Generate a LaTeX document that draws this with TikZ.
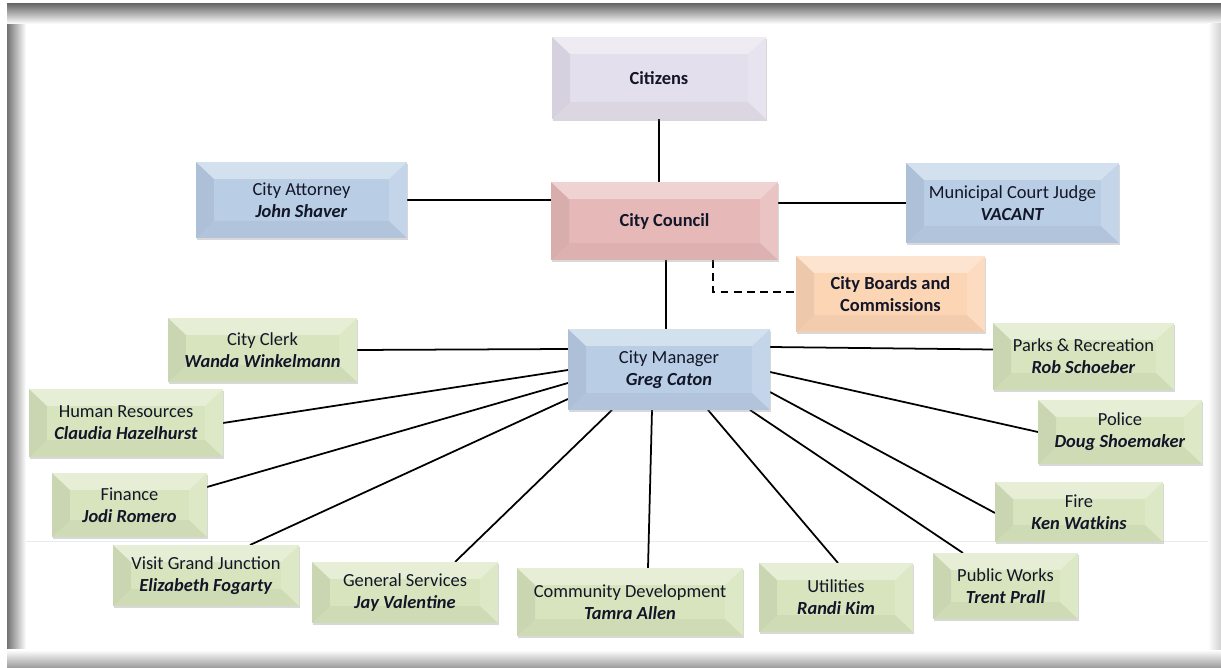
\documentclass[tikz,border=0pt]{standalone}
\usepackage{fontspec}
\setmainfont{Carlito}
\usetikzlibrary{calc,shadows,backgrounds}
\pgfdeclarelayer{bgframe}
\pgfsetlayers{bgframe,background,main}
\definecolor{citc}{RGB}{228,223,236}
\definecolor{counc}{RGB}{230,185,184}
\definecolor{bluc}{RGB}{185,205,229}
\definecolor{peachc}{RGB}{252,213,181}
\definecolor{grnc}{RGB}{215,228,189}
\definecolor{txtc}{RGB}{18,22,40}
\definecolor{faintc}{RGB}{230,234,241}
\tikzset{
  bevel/.style={path picture={
    \coordinate (bvA) at (path picture bounding box.north west);
    \coordinate (bvB) at (path picture bounding box.north east);
    \coordinate (bvC) at (path picture bounding box.south east);
    \coordinate (bvD) at (path picture bounding box.south west);
    \coordinate (bva) at ($(bvA)+(0.36cm,-0.34cm)$);
    \coordinate (bvb) at ($(bvB)+(-0.36cm,-0.34cm)$);
    \coordinate (bvc) at ($(bvC)+(-0.36cm,0.34cm)$);
    \coordinate (bvd) at ($(bvD)+(0.36cm,0.34cm)$);
    \fill[white,opacity=0.38] (bvA)--(bvB)--(bvb)--(bva)--cycle;
    \fill[white,opacity=0.16] (bvB)--(bvC)--(bvc)--(bvb)--cycle;
    \fill[black,opacity=0.04] (bvC)--(bvD)--(bvd)--(bvc)--cycle;
    \fill[black,opacity=0.06] (bvD)--(bvA)--(bva)--(bvd)--cycle;
  }},
  box/.style={fill=#1, bevel, inner sep=1pt, outer sep=0pt, align=center,
    text=txtc, font=\fontsize{10.5}{12.4}\selectfont,
    drop shadow={shadow xshift=0.7pt, shadow yshift=-1.3pt, opacity=0.3}},
  sz/.style 2 args={minimum width=#1*0.02cm, minimum height=#2*0.02cm},
  link/.style={line width=1pt, black},
  dlink/.style={line width=1.2pt, black, dash pattern=on 4.5pt off 3pt},
}
\newcommand{\nm}[1]{\textbf{\textit{#1}}}
\begin{document}
\begin{tikzpicture}[x=0.02cm, y=-0.02cm]
\useasboundingbox (0,0) rectangle (1221,668);
\begin{pgfonlayer}{bgframe}
  \fill[white] (0,0) rectangle (1221,668);
  \shade[left color=black!55, right color=white] (7,4) rectangle (26,668);
  \shade[top color=black!58, bottom color=white] (7,4) rectangle (1221,24);
  \shade[top color=white, bottom color=black!40] (7,650) rectangle (1221,668);
  \shade[left color=white, right color=black!18] (1208,24) rectangle (1221,650);
  \draw[line width=0.4pt, faintc] (26,541) -- (1208,541);
\end{pgfonlayer}

\node[box=citc, sz={214}{82}] (cit) at (659,78) {\textbf{Citizens}};
\node[box=bluc, sz={211}{76}] (att) at (301.5,200) {City Attorney\\\nm{John Shaver}};
\node[box=counc, sz={227}{78}] (coun) at (664.5,221) {\textbf{City Council}};
\node[box=bluc, sz={213}{80}] (mun) at (1012.5,203) {Municipal Court Judge\\\nm{VACANT}};
\node[box=peachc, sz={189}{76}] (boards) at (890.5,294) {\textbf{City Boards and}\\\textbf{Commissions}};
\node[box=bluc, sz={202}{81}] (mgr) at (669,369.5) {City Manager\\\nm{Greg Caton}};

\node[box=grnc, sz={189}{64}] (clerk) at (262.5,350) {City Clerk\\\nm{Wanda Winkelmann}};
\node[box=grnc, sz={194}{68}] (hr) at (126,423) {Human Resources\\\nm{Claudia Hazelhurst}};
\node[box=grnc, sz={155}{64}] (fin) at (129.5,505) {Finance\\\nm{Jodi Romero}};
\node[box=grnc, sz={186}{61}] (visit) at (206,575.5) {Visit Grand Junction\\\nm{Elizabeth Fogarty}};
\node[box=grnc, sz={186}{61}] (gen) at (405,592.5) {General Services\\\nm{Jay Valentine}};
\node[box=grnc, sz={226}{68}] (comm) at (630,602) {Community Development\\\nm{Tamra Allen}};
\node[box=grnc, sz={154}{69}] (util) at (836,597.5) {Utilities\\\nm{Randi Kim}};
\node[box=grnc, sz={145}{66}] (pw) at (1005.5,586) {Public Works\\\nm{Trent Prall}};
\node[box=grnc, sz={181}{67}] (parks) at (1083.5,356.5) {Parks \& Recreation\\\nm{Rob Schoeber}};
\node[box=grnc, sz={164}{64}] (police) at (1120,432) {Police\\\nm{Doug Shoemaker}};
\node[box=grnc, sz={168}{60}] (fire) at (1079,512) {Fire\\\nm{Ken Watkins}};

\begin{pgfonlayer}{background}
  \draw[link] (cit.south) -- (cit.south |- coun.north);
  \draw[link] (att.east) -- (att.east -| coun.west);
  \draw[link] (coun.east |- mun.west) -- (mun.west);
  \coordinate (cm) at ($(coun.south west)+(115,0)$);
  \draw[link] (cm) -- (cm |- mgr.north);
  \coordinate (dd) at ($(coun.south west)+(162,0)$);
  \draw[dlink] (dd) |- ($(boards.west)+(0,-2)$);

  \draw[link] (clerk.east) -- ($(mgr.north west)+(0,20)$);
  \draw[link] (hr.east) -- ($(mgr.north west)+(0,41)$);
  \draw[link] ($(fin.east)+(0,-18)$) -- ($(mgr.north west)+(0,54)$);
  \draw[link] ($(visit.north east)+(-49,0)$) -- ($(mgr.north west)+(0,70)$);
  \draw[link] ($(gen.north east)+(-43,0)$) -- ($(mgr.south west)+(44,0)$);
  \draw[link] ($(comm.north)+(18,0)$) -- ($(mgr.south west)+(84,0)$);
  \draw[link] ($(util.north)+(2,0)$) -- ($(mgr.south west)+(140,0)$);
  \draw[link] ($(pw.north west)+(30,0)$) -- ($(mgr.south east)+(-20,0)$);
  \draw[link] ($(fire.west)+(0,1)$) -- ($(mgr.north east)+(0,63)$);
  \draw[link] (police.west) -- ($(mgr.north east)+(0,43)$);
  \draw[link] ($(parks.west)+(0,-7)$) -- ($(mgr.north east)+(0,18)$);
\end{pgfonlayer}
\end{tikzpicture}
\end{document}
